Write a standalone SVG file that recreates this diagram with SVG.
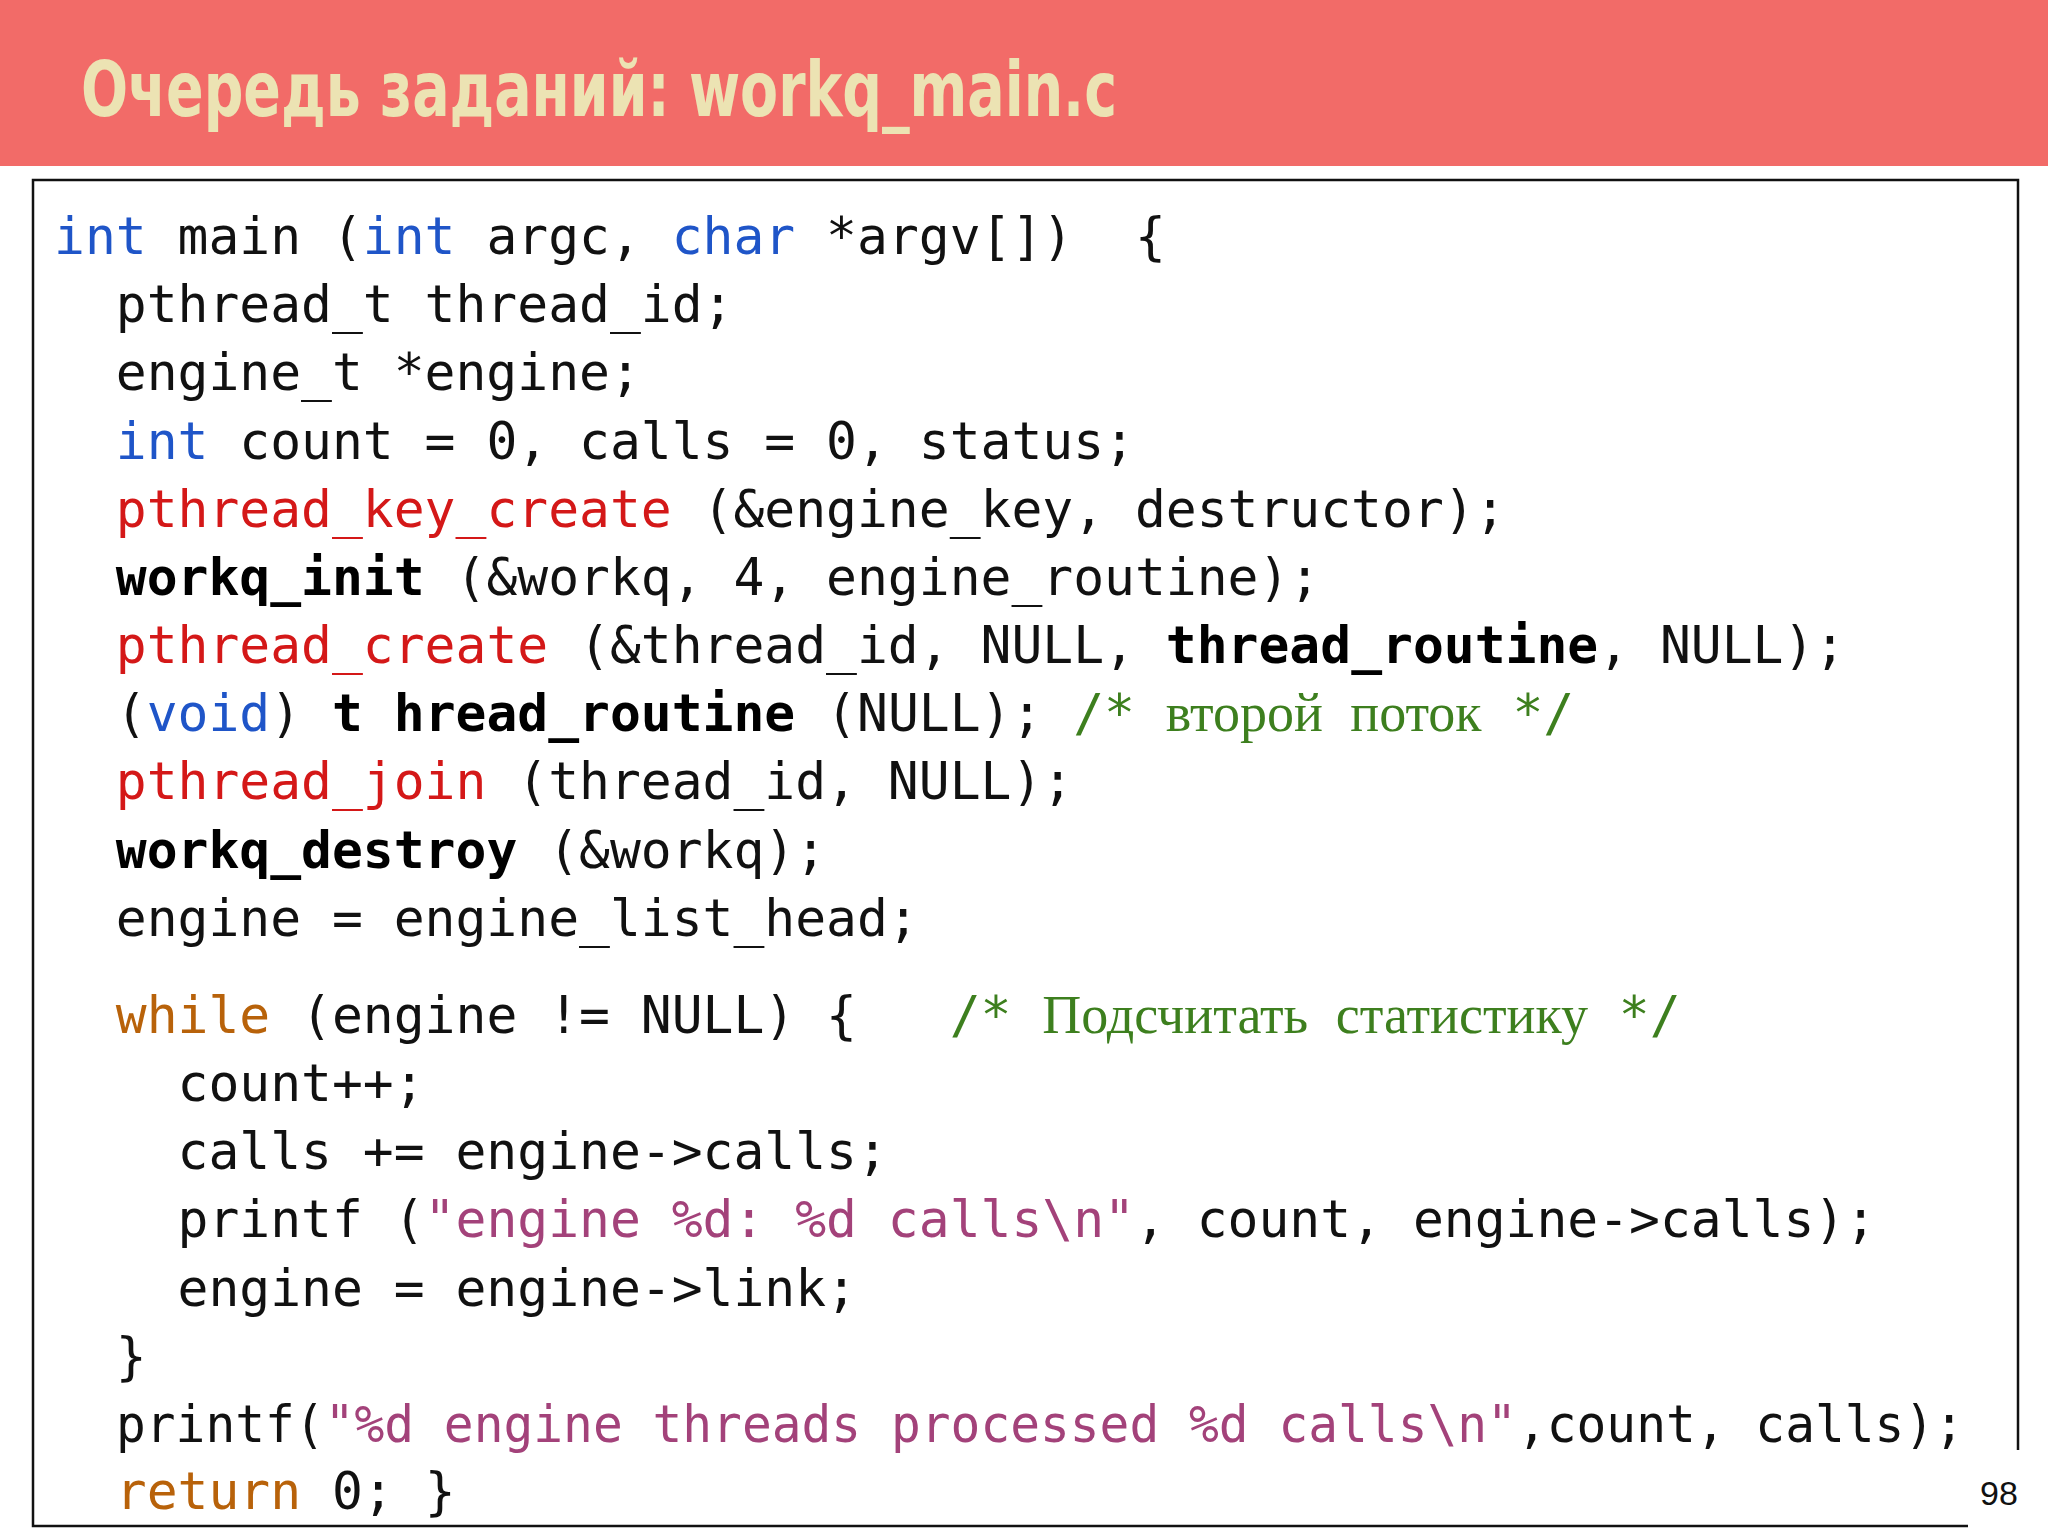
<svg xmlns="http://www.w3.org/2000/svg" width="2048" height="1536" viewBox="0 0 2048 1536">
<style>
.c{font-family:"DejaVu Sans Mono","Liberation Mono",monospace;font-size:51.3px;fill:#111;white-space:pre}
.k{fill:#1f55c8}.f{fill:#d41818}.b{font-weight:bold;fill:#000}.w{fill:#b8620a}.s{fill:#a3427a}
.g{fill:#3d7f1e}.sr{font-family:"Liberation Serif",serif;font-size:54px;word-spacing:14px}
</style>
<rect width="2048" height="1536" fill="#fff"/>
<g id="title">
<rect x="0" y="0" width="2048" height="166" fill="#f26b68"/>
<text x="81" y="116" font-family="'DejaVu Sans','Noto Sans',sans-serif" font-weight="bold" font-size="76" font-stretch="condensed" fill="#ece3b3" textLength="1036" lengthAdjust="spacingAndGlyphs">Очередь заданий: workq_main.c</text>
</g>
<g id="code">
<rect x="33" y="180" width="1985" height="1346" fill="none" stroke="#111" stroke-width="2.5"/>
<rect x="1968" y="1450" width="80" height="86" fill="#fff"/>
<text class="c" xml:space="preserve">
<tspan x="54" y="254"><tspan class="k">int</tspan> main (<tspan class="k">int</tspan> argc, <tspan class="k">char</tspan> *argv[])  {</tspan>
<tspan x="54" y="322">  pthread_t thread_id;</tspan>
<tspan x="54" y="390">  engine_t *engine;</tspan>
<tspan x="54" y="459">  <tspan class="k">int</tspan> count = 0, calls = 0, status;</tspan>
<tspan x="54" y="527">  <tspan class="f">pthread_key_create</tspan> (&amp;engine_key, destructor);</tspan>
<tspan x="54" y="595">  <tspan class="b">workq_init</tspan> (&amp;workq, 4, engine_routine);</tspan>
<tspan x="54" y="663">  <tspan class="f">pthread_create</tspan> (&amp;thread_id, NULL, <tspan class="b">thread_routine</tspan>, NULL);</tspan>
<tspan x="54" y="731">  (<tspan class="k">void</tspan>) <tspan class="b">t hread_routine</tspan> (NULL); <tspan class="g">/* <tspan class="sr">второй поток</tspan> */</tspan></tspan>
<tspan x="54" y="799">  <tspan class="f">pthread_join</tspan> (thread_id, NULL);</tspan>
<tspan x="54" y="868">  <tspan class="b">workq_destroy</tspan> (&amp;workq);</tspan>
<tspan x="54" y="936">  engine = engine_list_head;</tspan>
<tspan x="54" y="1033">  <tspan class="w">while</tspan> (engine != NULL) {   <tspan class="g">/* <tspan class="sr">Подсчитать статистику</tspan> */</tspan></tspan>
<tspan x="54" y="1101">    count++;</tspan>
<tspan x="54" y="1169">    calls += engine-&gt;calls;</tspan>
<tspan x="54" y="1237">    printf (<tspan class="s">"engine %d: %d calls\n"</tspan>, count, engine-&gt;calls);</tspan>
<tspan x="54" y="1306">    engine = engine-&gt;link;</tspan>
<tspan x="54" y="1374">  }</tspan>
<tspan x="54" y="1509">  <tspan class="w">return</tspan> 0; }</tspan>
</text>
<text class="c" x="116" y="1442" textLength="1848" lengthAdjust="spacingAndGlyphs">printf(<tspan class="s">"%d engine threads processed %d calls\n"</tspan>,count, calls);</text>
</g>
<text x="1980" y="1505" font-family="'Liberation Sans',sans-serif" font-size="34" fill="#111">98</text>
</svg>
